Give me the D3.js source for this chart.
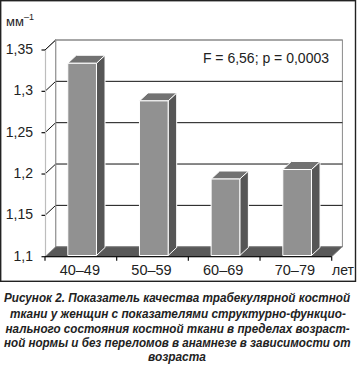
<!DOCTYPE html>
<html><head><meta charset="utf-8">
<script src="https://cdn.jsdelivr.net/npm/d3@7"></script>
<style>body{margin:0;background:#fff}svg{display:block}</style>
</head><body>
<script>
const categories = ["40–49","50–59","60–69","70–79"];
const values = [1.3325, 1.287, 1.1925, 1.204];
const yTicks = [1.1, 1.15, 1.2, 1.25, 1.3, 1.35];
const yTickLabels = ["1,1","1,15","1,2","1,25","1,3","1,35"];
const unitLabel = "мм";
const unitSup = "–1";
const xUnit = "лет";
const statText = "F = 6,56; p = 0,0003";
const captionLines = [
  "Рисунок 2. Показатель качества трабекулярной костной",
  "ткани у женщин с показателями структурно-функцио-",
  "нального состояния костной ткани в пределах возраст-",
  "ной нормы и без переломов в анамнезе в зависимости от",
  "возраста"
];

const W = 359, H = 365;
const svg = d3.select("body").append("svg").attr("width", W).attr("height", H);

svg.append("rect").attr("x",0.7).attr("y",0.7).attr("width",354.8).attr("height",280.6)
  .attr("fill","none").attr("stroke","#222").attr("stroke-width",1.4);

const x = d3.scaleBand().domain(categories).range([45, 331.7]);
const y = d3.scaleLinear().domain([1.1, 1.35]).range([256.7, 50]);
const DX = 10.7, DY = -10;
const bf = 0.12, bd = 0.8;
const x0 = x.range()[0], x1 = x.range()[1];
const yb = y(1.1), yt = y(1.35);

const g = svg.append("g");
g.append("path").attr("d", `M${x0},${yb} L${x0},${yt} L${x0+DX},${yt+DY} L${x0+DX},${yb+DY} Z`)
  .attr("fill","#fff").attr("stroke","none");
g.append("rect").attr("x", x0+DX).attr("y", yt+DY).attr("width", x1-x0).attr("height", yb-yt)
  .attr("fill","#fff").attr("stroke","#8a8a8a").attr("stroke-width",1);
yTicks.slice(1).forEach(t => {
  const yy = y(t);
  g.append("path").attr("d", `M${x0},${yy} L${x0+DX},${yy+DY} L${x1+DX},${yy+DY}`)
    .attr("fill","none").attr("stroke", t===1.35 ? "#8a8a8a" : "#111").attr("stroke-width",1);
});
g.append("path").attr("d", `M${x0},${yt} L${x0+DX},${yt+DY}`).attr("stroke","#111").attr("fill","none");
g.append("line").attr("x1",x0+0.5).attr("x2",x0+0.5).attr("y1",yt).attr("y2",yb).attr("stroke","#bdbdbd").attr("stroke-width",1.2);
g.append("line").attr("x1",x0+DX).attr("x2",x0+DX).attr("y1",yt+DY).attr("y2",yb+DY).attr("stroke","#9a9a9a").attr("stroke-width",1);
g.append("path").attr("d", `M${x0},${yb} L${x1},${yb} L${x1+DX},${yb+DY} L${x0+DX},${yb+DY} Z`)
  .attr("fill","#585858").attr("stroke","#8a8a8a").attr("stroke-width",0.8);

const bw = x.bandwidth()*0.4;
categories.forEach((c,i) => {
  const v = values[i];
  const fx = x(c) + x.bandwidth()/2 - bw/2 + DX*bf;
  const fyB = y(1.1) + DY*bf;
  const fyT = y(v) + DY*bf;
  const dx = DX*bd, dy = DY*bd;
  const bg = g.append("g").attr("stroke","#fff").attr("stroke-width",1).attr("stroke-linejoin","round");
  bg.append("path").attr("d", `M${fx+bw},${fyB} L${fx+bw},${fyT} L${fx+bw+dx},${fyT+dy} L${fx+bw+dx},${fyB+dy} Z`).attr("fill","#565656");
  bg.append("path").attr("d", `M${fx},${fyT} L${fx+dx},${fyT+dy} L${fx+bw+dx},${fyT+dy} L${fx+bw},${fyT} Z`).attr("fill","#727272");
  bg.append("rect").attr("x",fx).attr("y",fyT).attr("width",bw).attr("height",fyB-fyT).attr("fill","#919191");
});

g.append("line").attr("x1",x0).attr("x2",x1).attr("y1",yb).attr("y2",yb).attr("stroke","#111").attr("stroke-width",1.2);
const xEdges = categories.map(c => x(c)).concat([x1]);
xEdges.forEach(e => g.append("line").attr("x1",e).attr("x2",e).attr("y1",yb).attr("y2",yb+4).attr("stroke","#111").attr("stroke-width",1.2));
yTicks.forEach((t,i) => {
  g.append("line").attr("x1",x0-3.5).attr("x2",x0).attr("y1",y(t)).attr("y2",y(t)).attr("stroke","#111").attr("stroke-width",1.2);
  g.append("text").attr("x",33).attr("y",y(t)+4).attr("text-anchor","end")
    .attr("font-family","Liberation Sans, Arial, sans-serif").attr("font-size",14).attr("fill","#222").text(yTickLabels[i]);
});
categories.forEach(c => {
  g.append("text").attr("x", x(c)+x.bandwidth()/2 - 1).attr("y",275).attr("text-anchor","middle")
    .attr("font-family","Liberation Sans, Arial, sans-serif").attr("font-size",14.5).attr("fill","#222").text(c);
});
g.append("text").attr("x",332).attr("y",275).attr("font-family","Liberation Sans, Arial, sans-serif").attr("font-size",14).attr("fill","#222").text(xUnit);

const ut = g.append("text").attr("x",6).attr("y",26).attr("font-family","Liberation Sans, Arial, sans-serif").attr("font-size",13).attr("fill","#222");
ut.append("tspan").text(unitLabel);
ut.append("tspan").attr("dy",-6).attr("font-size",9).text(unitSup);

g.append("text").attr("x",329).attr("y",63).attr("text-anchor","end")
  .attr("font-family","Liberation Sans, Arial, sans-serif").attr("font-size",14).attr("fill","#222").text(statText);

// caption: horizontally scaled to fit measured line extents
const capX = [[4,350.5],[10,346],[5.5,350],[4,351],[148,206]];
const capY = [302.3, 317.7, 332.7, 346.7, 361];
captionLines.forEach((ln,i) => {
  const t = svg.append("text").attr("x",0).attr("y",capY[i])
    .attr("font-family","Liberation Sans, Arial, sans-serif").attr("font-size",13)
    .attr("font-weight","bold").attr("font-style","italic").attr("fill","#222").text(ln);
  const nat = t.node().getComputedTextLength();
  const target = capX[i][1]-capX[i][0];
  const sx = target / nat;
  t.attr("transform", `translate(${capX[i][0]},0) scale(${sx},1)`);
});
</script>
</body></html>
